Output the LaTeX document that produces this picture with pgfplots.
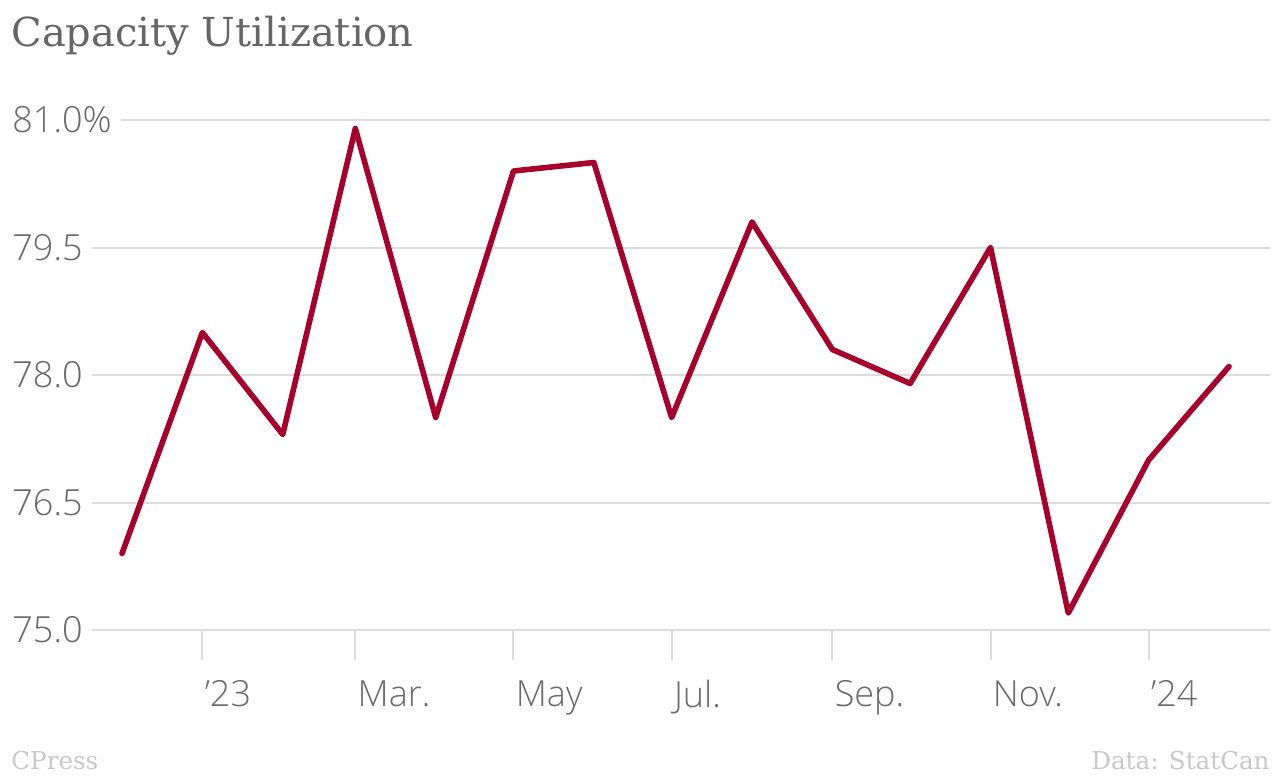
\documentclass[border=0pt]{standalone}
\usepackage{pgfplots}
\pgfplotsset{compat=1.18}
\usepackage{fontspec}
\setmainfont{Open Sans}
\newfontfamily\tickfont{Open Sans Light}
\newfontfamily\titlefont{DejaVu Serif}
\definecolor{linered}{HTML}{A6002B}
\definecolor{tickgray}{HTML}{6A6A6A}
\definecolor{titlegray}{HTML}{666666}
\definecolor{gridgray}{HTML}{DDDDDD}
\definecolor{footgray}{HTML}{C8C8C8}
\begin{document}
\begin{tikzpicture}
\path[use as bounding box] (0,0) rectangle (640pt,388pt);
\begin{axis}[
  at={(5pt,73pt)}, anchor=south west, scale only axis,
  width=630pt, height=255pt,
  xmin=-43.2, xmax=442.8, ymin=75, ymax=81,
  axis line style={draw=none},
  clip=false,
  ymajorgrids,
  grid style={draw=gridgray, line width=1pt},
  ytick={75,76.5,78,79.5,81},
  yticklabels={75.0,76.5,78.0,79.5,81.0\%},
  ytick style={draw=none},
  yticklabel style={anchor=west, fill=white, inner xsep=4.5pt, inner ysep=1pt, xshift=11.5pt, font=\tickfont\fontsize{18pt}{20pt}\selectfont, text=tickgray},
  xtick={31,90,151,212,274,335,396},
  xticklabels={’23,Mar.,May,Jul.,Sep.,Nov.,’24},
  xtick pos=bottom,
  tick align=outside,
  major tick length=15pt,
  xtick style={draw=gridgray, line width=1pt},
  xticklabel style={anchor=north west, inner sep=0pt, xshift=1pt, yshift=-10pt, font=\tickfont\fontsize{18pt}{20pt}\selectfont, text=tickgray},
]
% x = days since 1 Dec 2022 (first of each month)
\addplot[color=linered, line width=2.8pt, line join=round, line cap=round] coordinates {
(0,75.9) (31,78.5) (62,77.3) (90,80.9) (121,77.5) (151,80.4) (182,80.5) (212,77.5)
(243,79.8) (274,78.3) (304,77.9) (335,79.5) (365,75.2) (396,77.0) (427,78.1)
};
\end{axis}
\node[anchor=base west, inner sep=0pt, text=titlegray, font=\titlefont\fontsize{20pt}{24pt}\selectfont] at (5.5pt,364.5pt) {Capacity Utilization};
\node[anchor=base west, inner sep=0pt, text=footgray, font=\titlefont\fontsize{12.3pt}{14pt}\selectfont] at (5.5pt,3pt) {CPress};
\node[anchor=base east, inner sep=0pt, text=footgray, font=\titlefont\fontsize{12.3pt}{14pt}\selectfont] at (635pt,3pt) {Data: StatCan};
\end{tikzpicture}
\end{document}
